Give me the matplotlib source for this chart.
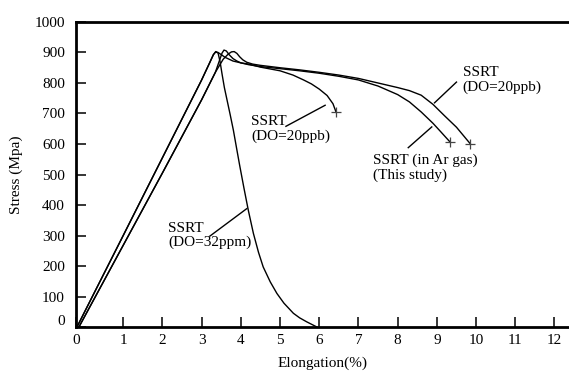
import matplotlib
matplotlib.use("Agg")
import matplotlib.pyplot as plt
from matplotlib.transforms import ScaledTranslation

plt.rcParams['font.family'] = ['Liberation Serif', 'DejaVu Serif']
plt.rcParams['font.size'] = 11

# ---- data ----
x_32ppm = [-0.18, 1.0, 2.0, 3.0, 3.2, 3.3, 3.36, 3.42, 3.47, 3.52, 3.58, 3.65, 3.73, 3.81, 3.9, 3.97, 4.08,
           4.19, 4.32, 4.45, 4.57, 4.75, 4.92, 5.1, 5.34, 5.5, 5.68, 5.94]
y_32ppm = [0, 300, 555, 810, 865, 893, 903, 898, 870, 830, 785, 743, 695, 645, 580, 530, 455,
           383, 307, 245, 197, 148, 110, 78, 45, 30, 17, 0]

x_20ppb_short = [-0.18, 1.0, 2.0, 3.0, 3.2, 3.3, 3.36, 3.42, 3.5, 3.6, 3.8, 4.0, 4.2, 4.5, 5.0, 5.33,
                 5.6, 5.8, 6.0, 6.2, 6.35, 6.43]
y_20ppb_short = [0, 300, 555, 810, 865, 893, 902, 900, 893, 884, 872, 866, 862, 852, 840, 826,
                 810, 797, 780, 759, 732, 704]

x_ar = [-0.13, 1.0, 2.0, 3.0, 3.35, 3.45, 3.52, 3.57, 3.63, 3.7, 3.8, 3.9, 4.0, 4.2, 4.49, 5.0, 5.5, 6.0,
        6.5, 7.0, 7.5, 8.0, 8.3, 8.6, 8.9, 9.1, 9.34]
y_ar = [0, 268, 505, 745, 835, 872, 898, 908, 905, 893, 880, 872, 866, 860, 854, 847, 840, 832,
        822, 810, 790, 762, 738, 705, 668, 640, 606]

x_20ppb_long = [-0.13, 1.0, 2.0, 3.0, 3.35, 3.55, 3.68, 3.76, 3.83, 3.9, 3.97, 4.05, 4.15, 4.3, 4.49,
                5.0, 5.5, 6.0, 6.5, 7.0, 7.5, 8.0, 8.3, 8.6, 8.9, 9.2, 9.5, 9.85]
y_20ppb_long = [0, 268, 505, 745, 835, 878, 895, 902, 903, 897, 886, 876, 868, 862, 858,
                850, 843, 835, 826, 815, 800, 785, 775, 760, 730, 692, 655, 601]

x_ticks = [1, 2, 3, 4, 5, 6, 7, 8, 9, 10, 11, 12]
y_ticks = [0, 100, 200, 300, 400, 500, 600, 700, 800, 900, 1000]

fig = plt.figure(figsize=(5.69, 3.76), dpi=100)
ax = fig.add_axes([0.1336, 0.1303, 0.8664, 0.8112])

lw = 1.0
for xs, ys in [(x_32ppm, y_32ppm), (x_20ppb_short, y_20ppb_short),
               (x_ar, y_ar), (x_20ppb_long, y_20ppb_long)]:
    ax.plot(xs, ys, color='black', lw=lw, solid_joinstyle='round')

# end markers
for xs, ys in [(x_20ppb_short, y_20ppb_short), (x_ar, y_ar), (x_20ppb_long, y_20ppb_long)]:
    ax.plot(xs[-1], ys[-1], marker='+', ms=7, mew=0.9, color='#444444')

ax.set_xlim(-0.204, 12.37)
ax.set_ylim(0, 1000)

ax.set_xticks([-0.204] + x_ticks)
ax.set_xticklabels(['0'] + [str(t) for t in x_ticks])
ax.set_yticks(y_ticks)
ax.set_yticklabels([str(t) for t in y_ticks])

ax.tick_params(axis='both', direction='in', length=7, width=1.1, colors='black')
ax.tick_params(axis='x', pad=5)
ax.tick_params(axis='y', pad=8)

for s in ['left', 'bottom', 'top']:
    ax.spines[s].set_linewidth(2.0)
ax.spines['right'].set_visible(False)

# shift the "0" y label up a bit
lab0 = ax.get_yticklabels()[0]
lab0.set_transform(lab0.get_transform() + ScaledTranslation(0, 5/72, fig.dpi_scale_trans))

ax.set_ylabel('Stress (Mpa)', labelpad=8)
ax.set_xlabel('Elongation(%)', labelpad=7)

# annotations
ax.text(4.27, 650, 'SSRT\n(DO=20ppb)', ha='left', va='center', linespacing=1.1)
ax.plot([5.15, 6.15], [658, 727], color='black', lw=1.0)

ax.text(2.14, 300, 'SSRT\n(DO=32ppm)', ha='left', va='center', linespacing=1.1)
ax.plot([3.21, 4.15], [298, 388], color='black', lw=1.0)

ax.text(9.66, 810, 'SSRT\n(DO=20ppb)', ha='left', va='center', linespacing=1.1)
ax.plot([8.94, 9.5], [735, 803], color='black', lw=1.0)

ax.text(7.37, 522, 'SSRT (in Ar gas)\n(This study)', ha='left', va='center', linespacing=1.1)
ax.plot([8.27, 8.87], [588, 656], color='black', lw=1.0)

fig.savefig('out.png', dpi=100)
